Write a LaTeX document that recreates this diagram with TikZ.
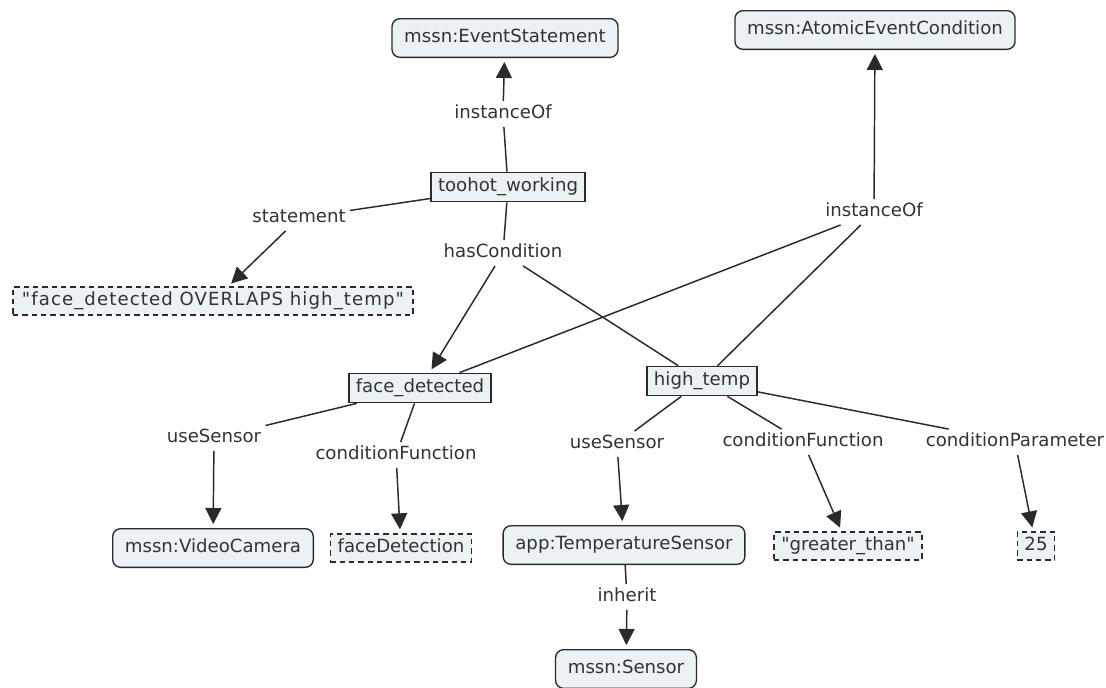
\documentclass[tikz,border=0pt]{standalone}
\usepackage{fontspec}
\setmainfont{DejaVu Sans}[Ligatures=TeXOff]
\usetikzlibrary{arrows.meta}
\definecolor{nodefill}{HTML}{EAF2F6}
\definecolor{ink}{HTML}{2A2A2A}
\definecolor{txt}{HTML}{333333}
\newcommand{\dq}{\symbol{34}}
\begin{document}
\begin{tikzpicture}[x=0.75pt,y=-0.75pt,
  every node/.style={font=\fontsize{13.6pt}{16pt}\selectfont, text=txt, text height=10pt, text depth=3pt},
  cls/.style={draw=ink, line width=1pt, fill=nodefill, rounded corners=6pt, inner xsep=9.2pt, minimum height=29pt},
  inst/.style={draw=ink, line width=1pt, fill=nodefill, inner xsep=5.2pt, minimum height=22pt},
  lit/.style={draw=ink, line width=1pt, dash pattern=on 4pt off 3pt, fill=nodefill, inner xsep=5.4pt, minimum height=21pt},
  lbl/.style={inner sep=3pt, fill=white},
  link/.style={draw=ink, line width=1.1pt},
  arr/.style={link, -{Triangle[length=12pt,width=12pt]}, shorten >=3pt}
]
\useasboundingbox[fill=white] (0,0) rectangle (1106,687);

% concept nodes
\node[cls]  (es)  at (505,38)  {mssn:EventStatement};
\node[cls]  (aec) at (875,30)  {mssn:AtomicEventCondition};
\node[inst] (tw)  at (508,187) {toohot\_working};
\node[lit, minimum width=300pt] (lit1) at (213,301) {\addfontfeature{LetterSpace=6}\dq face\_detected OVERLAPS high\_temp\dq};
\node[inst] (fd)  at (420,388) {face\_detected};
\node[inst] (ht)  at (702,381) {high\_temp};
\node[cls]  (vc)  at (213,548) {mssn:VideoCamera};
\node[lit]  (fdet) at (401,548) {faceDetection};
\node[cls]  (ts)  at (624,545) {app:TemperatureSensor};
\node[lit]  (gt)  at (848,546) {\dq greater\_than\dq};
\node[lit]  (n25) at (1036,546) {25};
\node[cls]  (sen) at (626,669) {mssn:Sensor};

% linking phrases
\node[lbl] (li1) at (503,114) {instanceOf};
\node[lbl] (li2) at (874,212) {instanceOf};
\node[lbl] (lst) at (299,218) {statement};
\node[lbl] (lhc) at (503,253) {hasCondition};
\node[lbl] (lus1) at (214,438) {useSensor};
\node[lbl] (lcf1) at (396,455) {conditionFunction};
\node[lbl] (lus2) at (617,444) {useSensor};
\node[lbl] (lcf2) at (803,442) {conditionFunction};
\node[lbl] (lcp) at (1015,442) {conditionParameter};
\node[lbl] (linh) at (627,597) {inherit};

% connections
\draw[link] (tw) -- (li1);
\draw[arr]  (li1) -- (es);
\draw[link] (tw) -- (lst);
\draw[arr]  (lst) -- (lit1);
\draw[link] (tw) -- (lhc);
\draw[arr]  (lhc) -- (fd);
\draw[link] (lhc) -- (ht);
\draw[link] (fd) -- (li2);
\draw[link] (ht) -- (li2);
\draw[arr]  (li2) -- (aec);
\draw[link] (fd) -- (lus1);
\draw[arr]  (lus1) -- (vc);
\draw[link] (fd) -- (lcf1);
\draw[arr]  (lcf1) -- (fdet);
\draw[link] (ht) -- (lus2);
\draw[arr]  (lus2) -- (ts);
\draw[link] (ht) -- (lcf2);
\draw[arr]  (lcf2) -- (gt);
\draw[link] (ht) -- (lcp);
\draw[arr]  (lcp) -- (n25);
\draw[link] (ts) -- (linh);
\draw[arr]  (linh) -- (sen);
\end{tikzpicture}
\end{document}
